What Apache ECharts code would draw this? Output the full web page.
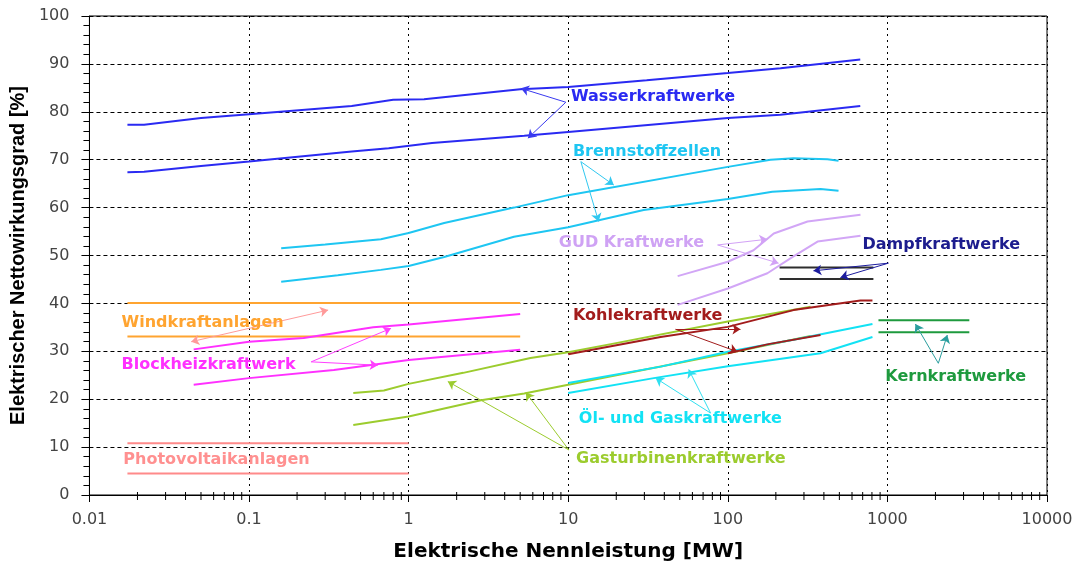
<!DOCTYPE html>
<html>
<head>
<meta charset="utf-8">
<script src="https://cdn.jsdelivr.net/npm/echarts@6/dist/echarts.min.js"></script>
<style>html,body{margin:0;padding:0;background:#fff;}#c{width:1084px;height:570px;}</style>
</head>
<body>
<div id="c"></div>
<script>
// ---- tick labels ----
const xTickLabels = ['0.01', '0.1', '1', '10', '100', '1000', '10000'];
const yTickLabels = ['0', '10', '20', '30', '40', '50', '60', '70', '80', '90', '100'];
const minorMultipliers = [2, 3, 4, 5, 6, 7, 8, 9];
const minorDecades = [0.01, 0.1, 1, 10, 100, 1000];

// ---- series values [MW, %] ----
const wasserUpper = [[0.0173,77.3],[0.022,77.3],[0.05,78.7],[0.1,79.5],[0.44,81.2],[0.8,82.5],[1.25,82.6],[5,84.7],[10,85.2],[31,86.6],[100,88.1],[214,89.1],[676,90.9]];
const wasserLower = [[0.0173,67.4],[0.022,67.5],[0.05,68.7],[0.1,69.6],[0.44,71.7],[0.75,72.4],[1.4,73.5],[5.3,75.0],[10,75.8],[100,78.7],[214,79.4],[676,81.2]];
const brennUpper = [[0.159,51.5],[0.3,52.3],[0.67,53.4],[1,54.7],[1.67,56.8],[4.57,60.0],[10,62.6],[100,68.5],[185,70.0],[258,70.3],[421,70.1],[494,69.8]];
const brennLower = [[0.159,44.5],[0.36,45.9],[0.67,47.0],[1,47.8],[1.67,49.7],[4.57,53.9],[10,55.9],[29.7,59.5],[100,61.8],[190,63.3],[381,63.9],[494,63.5]];
const gudUpper = [[48.5,45.7],[100,48.7],[145,51.1],[194,54.6],[316,57.1],[678,58.5]];
const gudLower = [[48.5,39.7],[100,43.1],[177,46.3],[258,49.8],[365,52.9],[678,54.1]];
const dampfUpper = [[211,47.5],[817,47.5]];
const dampfLower = [[211,45.1],[817,45.1]];
const kernUpper = [[879,36.5],[3260,36.5]];
const kernLower = [[879,34.0],[3260,34.0]];
const gasUpper = [[0.45,21.3],[0.7,21.8],[1,23.2],[2.2,25.5],[5.8,28.6],[10,29.8],[18.5,31.5],[100,36.2],[200,38.0],[330,39.3]];
const gasLower = [[0.45,14.6],[1,16.4],[2.84,19.8],[5.3,21.2],[10,23.0],[100,29.6],[330,33.2]];
const kohleUpper = [[10,29.4],[37.9,33.0],[100,35.1],[258,38.6],[678,40.6],[806,40.6]];
const kohleLower = [[100,29.6],[180,31.5],[381,33.4]];
const oelUpper = [[10,23.4],[38,26.8],[100,29.9],[258,32.4],[806,35.7]];
const oelLower = [[10,21.3],[34.4,24.4],[100,26.9],[381,29.6],[806,33.0]];
const windUpper = [[0.0173,40.1],[5,40.1]];
const windLower = [[0.0173,33.1],[5,33.1]];
const blockUpper = [[0.045,30.4],[0.1,32.0],[0.22,32.8],[0.6,35.0],[1,35.6],[5,37.8]];
const blockLower = [[0.045,23.0],[0.1,24.4],[0.34,26.1],[1,28.2],[5,30.3]];
const pvUpper = [[0.0173,10.8],[1,10.8]];
const pvLower = [[0.0173,4.5],[1,4.5]];

// ---- annotation texts and anchors (data space) ----
const labelNames = ['Wasserkraftwerke','Brennstoffzellen','GUD Kraftwerke','Dampfkraftwerke','Kohlekraftwerke','Kernkraftwerke','Öl- und Gaskraftwerke','Gasturbinenkraftwerke','Windkraftanlagen','Blockheizkraftwerk','Photovoltaikanlagen'];
const labelAnchors = [[10.4,83.1],[10.7,71.6],[8.73,52.6],[698,52.2],[10.7,37.4],[971,24.6],[11.65,15.9],[11.2,7.5],[0.0159,35.9],[0.0159,27.1],[0.0163,7.3]];
const labelKeys = ['wasser','brenn','gud','dampf','kohle','kern','oel','gas','wind','block','pv'];

// ---- arrows (data space) ----
const arrowKeys = ['wasser','wasser','brenn','brenn','gud','gud','dampf','dampf','kern','kern','kohle','kohle','oel','oel','gas','gas','block','block'];
const arrowCoords = [
  [[9.66,82.0],[5.05,84.9]], [[9.66,82.0],[5.59,74.5]],
  [[12.0,69.6],[19.3,64.7]], [[12.0,69.6],[15.5,57.1]],
  [[86.3,52.2],[177,53.4]], [[86.3,52.2],[208,48.4]],
  [[1014,48.4],[344,46.8]], [[1014,48.4],[508,45.4]],
  [[2085,27.5],[1497,35.7]], [[2085,27.5],[2373,33.4]],
  [[47.1,34.6],[120,34.6]], [[47.1,34.6],[115,29.9]],
  [[78,17.1],[35.3,24.4]], [[78,17.1],[56.9,26.2]],
  [[10.1,9.4],[1.76,23.7]], [[10.1,9.4],[5.43,21.4]],
  [[0.245,27.8],[0.776,34.8]], [[0.245,27.8],[0.641,27.1]]
];
const windArrow = [[0.0434,32.0],[0.313,38.6]];

// ---- styles ----
const lineColors = {wasser:'#2a2af2', brenn:'#1ec6f2', gud:'#d2a6f6', dampf:'#2e2e2e', kern:'#1e9a3e', gas:'#9ccc2e', kohle:'#a21c1c', oel:'#12e2f4', wind:'#ffa430', block:'#ff30ff', pv:'#ff8a8a'};
const textColors = {wasser:'#2a2af2', brenn:'#1ec6f2', gud:'#cfa2f4', dampf:'#1c1c8e', kern:'#1e9a3e', gas:'#9ccc2e', kohle:'#a21c1c', oel:'#12e2f4', wind:'#ffa430', block:'#ff30ff', pv:'#ff9090'};
const arrowColors = {wasser:'#3a3af0', brenn:'#30c8f0', gud:'#d2a2f6', dampf:'#1c1c9e', kern:'#2a9e9e', gas:'#9ccc2e', kohle:'#a21c1c', oel:'#30e0f0', wind:'#ff9a9a', block:'#ff40ff'};

function lineSeries(name, data, key, w) {
  return {type:'line', name:name, data:data, showSymbol:false, symbol:'none', silent:true,
    lineStyle:{color:lineColors[key], width:w||2, opacity:1}, z:3};
}

const minorTicks = [];
minorDecades.forEach(d => minorMultipliers.forEach(m => minorTicks.push([+(m*d).toPrecision(3), 0])));

const chart = echarts.init(document.getElementById('c'), null, {renderer:'canvas'});
const option = {
  animation:false,
  backgroundColor:'#fff',
  grid:{left:88, right:37, top:16, bottom:75, show:true, borderColor:'#000', borderWidth:1},
  xAxis:{
    type:'log', logBase:10, min:0.01, max:10000,
    name:'Elektrische Nennleistung [MW]', nameLocation:'middle', nameGap:47,
    nameTextStyle:{fontFamily:'DejaVu Sans', fontWeight:'bold', fontSize:20, color:'#000'},
    axisLine:{lineStyle:{color:'#000', width:1}},
    axisTick:{show:true, length:7, lineStyle:{color:'#000'}},
    axisLabel:{fontFamily:'DejaVu Sans', fontSize:16, color:'#444', margin:17,
      formatter:(v, i) => xTickLabels[i] !== undefined ? xTickLabels[i] : ''},
    splitLine:{show:true, lineStyle:{color:'#000', type:[2,4], width:1}},
    minorTick:{show:false}
  },
  yAxis:{
    type:'value', min:0, max:100, interval:10,
    name:'Elektrischer Nettowirkungsgrad [%]', nameLocation:'middle', nameGap:55,
    nameTextStyle:{fontFamily:'Liberation Sans', fontWeight:'bold', fontSize:20, color:'#000'},
    axisLine:{show:true, lineStyle:{color:'#000', width:1}},
    axisTick:{show:true, length:8, lineStyle:{color:'#000'}},
    minorTick:{show:true, splitNumber:5, length:6, lineStyle:{color:'#000'}},
    axisLabel:{fontFamily:'DejaVu Sans', fontSize:16, color:'#444', margin:20,
      formatter:(v, i) => yTickLabels[i] !== undefined ? yTickLabels[i] : ''},
    splitLine:{show:true, lineStyle:{color:'#000', type:[4,3], width:1}}
  },
  series:[
    lineSeries('Photovoltaik oben', pvUpper, 'pv'),
    lineSeries('Photovoltaik unten', pvLower, 'pv'),
    lineSeries('Wind oben', windUpper, 'wind'),
    lineSeries('Wind unten', windLower, 'wind'),
    lineSeries('BHKW oben', blockUpper, 'block'),
    lineSeries('BHKW unten', blockLower, 'block'),
    lineSeries('Wasser oben', wasserUpper, 'wasser'),
    lineSeries('Wasser unten', wasserLower, 'wasser'),
    lineSeries('Brennstoff oben', brennUpper, 'brenn'),
    lineSeries('Brennstoff unten', brennLower, 'brenn'),
    lineSeries('GUD oben', gudUpper, 'gud'),
    lineSeries('GUD unten', gudLower, 'gud'),
    lineSeries('Gasturbine oben', gasUpper, 'gas'),
    lineSeries('Gasturbine unten', gasLower, 'gas'),
    lineSeries('Öl oben', oelUpper, 'oel'),
    lineSeries('Öl unten', oelLower, 'oel'),
    lineSeries('Kohle oben', kohleUpper, 'kohle'),
    lineSeries('Kohle unten', kohleLower, 'kohle'),
    lineSeries('Dampf oben', dampfUpper, 'dampf'),
    lineSeries('Dampf unten', dampfLower, 'dampf'),
    lineSeries('Kern oben', kernUpper, 'kern'),
    lineSeries('Kern unten', kernLower, 'kern'),
    {
      type:'lines', coordinateSystem:'cartesian2d', silent:true, z:4,
      symbol:['none','arrow'], symbolSize:8,
      data: arrowCoords.map((c, i) => ({coords:c, lineStyle:{color:arrowColors[arrowKeys[i]], width:1, opacity:1}}))
    },
    {
      type:'lines', coordinateSystem:'cartesian2d', silent:true, z:4,
      symbol:['arrow','arrow'], symbolSize:8,
      data:[{coords:windArrow, lineStyle:{color:arrowColors.wind, width:1, opacity:1}}]
    },
    {
      type:'scatter', silent:true, z:5, symbolSize:0, symbol:'circle',
      itemStyle:{opacity:1},
      data: labelAnchors.map((p, i) => ({
        value:p, name:labelNames[i],
        label:{show:true, position:'right', distance:0, formatter:labelNames[i], opacity:1,
          color:textColors[labelKeys[i]], fontFamily:'DejaVu Sans', fontWeight:'bold', fontSize:16}
      }))
    },
    {
      type:'custom', silent:true, z:2, clip:false,
      data:minorTicks, encode:{x:0, y:1},
      renderItem:(params, api) => {
        const p = api.coord([api.value(0), api.value(1)]);
        return {type:'line', shape:{x1:p[0], y1:p[1]-3, x2:p[0], y2:p[1]+5}, style:{stroke:'#000', lineWidth:1}};
      }
    }
  ]
};
chart.setOption(option);
</script>
</body>
</html>
